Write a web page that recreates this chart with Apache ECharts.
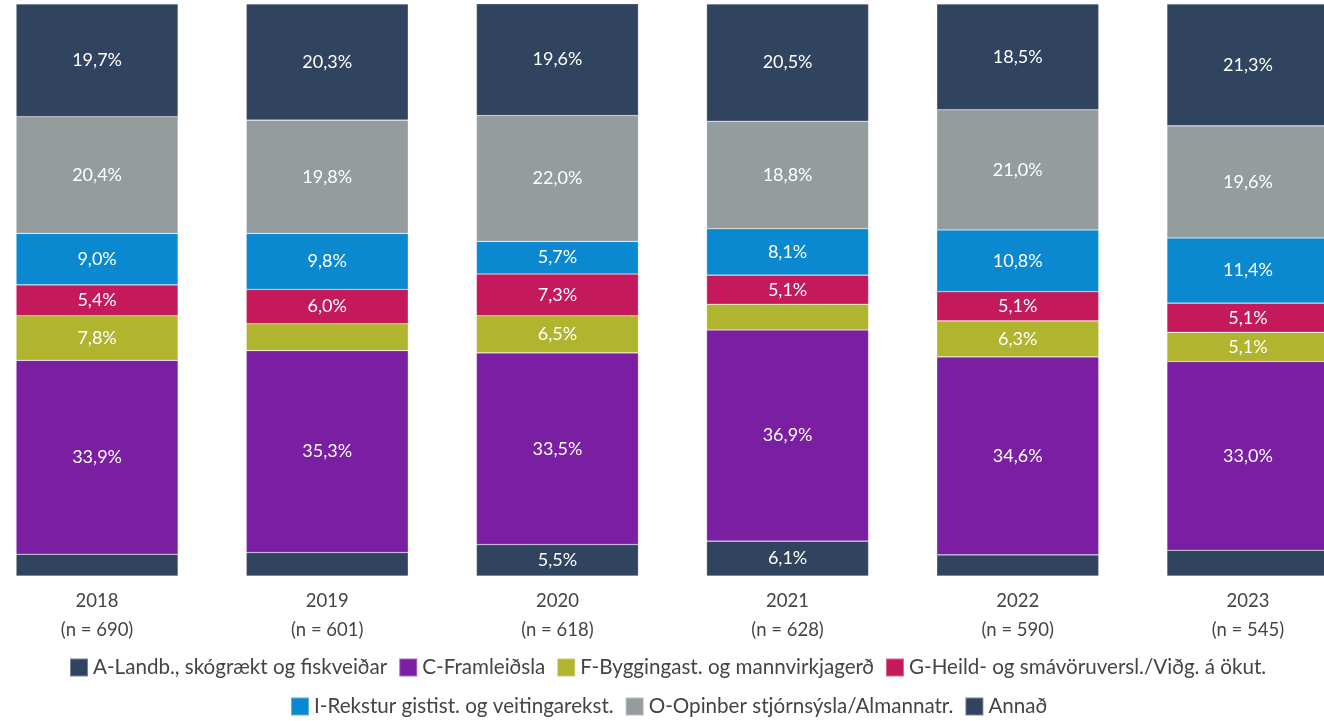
<!DOCTYPE html>
<html>
<head>
<meta charset="utf-8">
<script src="https://cdn.jsdelivr.net/npm/echarts@6/dist/echarts.min.js"></script>
<style>
  html, body { margin: 0; padding: 0; background: #fff; }
  #chart { width: 1324px; height: 721px; }
</style>
</head>
<body>
<div id="chart"></div>
<script>
// ár og fjöldi svara
var years = ['2018', '2019', '2020', '2021', '2022', '2023'];
var counts = [690, 601, 618, 628, 590, 545];

// hlutföll (%) eftir atvinnugrein, neðst og upp
var seriesNames = [
    'A-Landb., skógrækt og fiskveiðar',
    'C-Framleiðsla',
    'F-Byggingast. og mannvirkjagerð',
    'G-Heild- og smávöruversl./Viðg. á ökut.',
    'I-Rekstur gistist. og veitingarekst.',
    'O-Opinber stjórnsýsla/Almannatr.',
    'Annað'
];
var valA = [3.8, 4.1, 5.5, 6.1, 3.7, 4.5];
var valC = [33.9, 35.3, 33.5, 36.9, 34.6, 33.0];
var valF = [7.8, 4.7, 6.5, 4.5, 6.3, 5.1];
var valG = [5.4, 6.0, 7.3, 5.1, 5.1, 5.1];
var valI = [9.0, 9.8, 5.7, 8.1, 10.8, 11.4];
var valO = [20.4, 19.8, 22.0, 18.8, 21.0, 19.6];
var valAnnad = [19.7, 20.3, 19.6, 20.5, 18.5, 21.3];

var colors = ['#31445f', '#7a1fa2', '#b0b42e', '#c4195a', '#0a89d0', '#959c9e', '#31445f'];
var allValues = [valA, valC, valF, valG, valI, valO, valAnnad];

var font = 'Lato, "Noto Sans", sans-serif';

var chart = echarts.init(document.getElementById('chart'));

var series = seriesNames.map(function (name, i) {
    return {
        name: name,
        type: 'bar',
        stack: 'total',
        barWidth: 162,
        data: allValues[i],
        itemStyle: {
            color: colors[i],
            borderColor: 'rgba(255,255,255,0.35)',
            borderWidth: 0.6
        },
        label: {
            show: true,
            position: 'inside',
            color: '#fff',
            fontSize: 18,
            fontFamily: font,
            formatter: function (p) {
                // aðeins merkt ef hlutfallið er 5% eða meira
                if (p.value < 5) return '';
                return p.value.toFixed(1).replace('.', ',') + '%';
            }
        }
    };
});

var legendText = { color: '#444', fontSize: 20.6, lineHeight: 20, fontFamily: font };

var option = {
    backgroundColor: '#fff',
    animation: false,
    grid: {
        left: -18,
        right: -39,
        top: 4,
        bottom: 145,
        outerBoundsMode: 'none'
    },
    legend: [
        {
            data: seriesNames.slice(0, 4),
            left: 64,
            top: 652,
            itemWidth: 18,
            itemHeight: 18,
            itemGap: 11,
            icon: 'rect',
            textStyle: legendText
        },
        {
            data: seriesNames.slice(4),
            left: 285,
            top: 691,
            itemWidth: 18,
            itemHeight: 18,
            itemGap: 11,
            icon: 'rect',
            textStyle: legendText
        }
    ],
    xAxis: {
        type: 'category',
        data: years,
        axisLine: { show: false },
        axisTick: { show: false },
        axisLabel: {
            margin: 11,
            color: '#444',
            fontSize: 18.5,
            lineHeight: 29,
            fontFamily: font,
            formatter: function (v, idx) {
                return v + '\n(n = ' + counts[idx] + ')';
            }
        }
    },
    yAxis: {
        type: 'value',
        min: 0,
        max: 100,
        show: false,
        splitLine: { show: false }
    },
    series: series
};

chart.setOption(option);
</script>
</body>
</html>
